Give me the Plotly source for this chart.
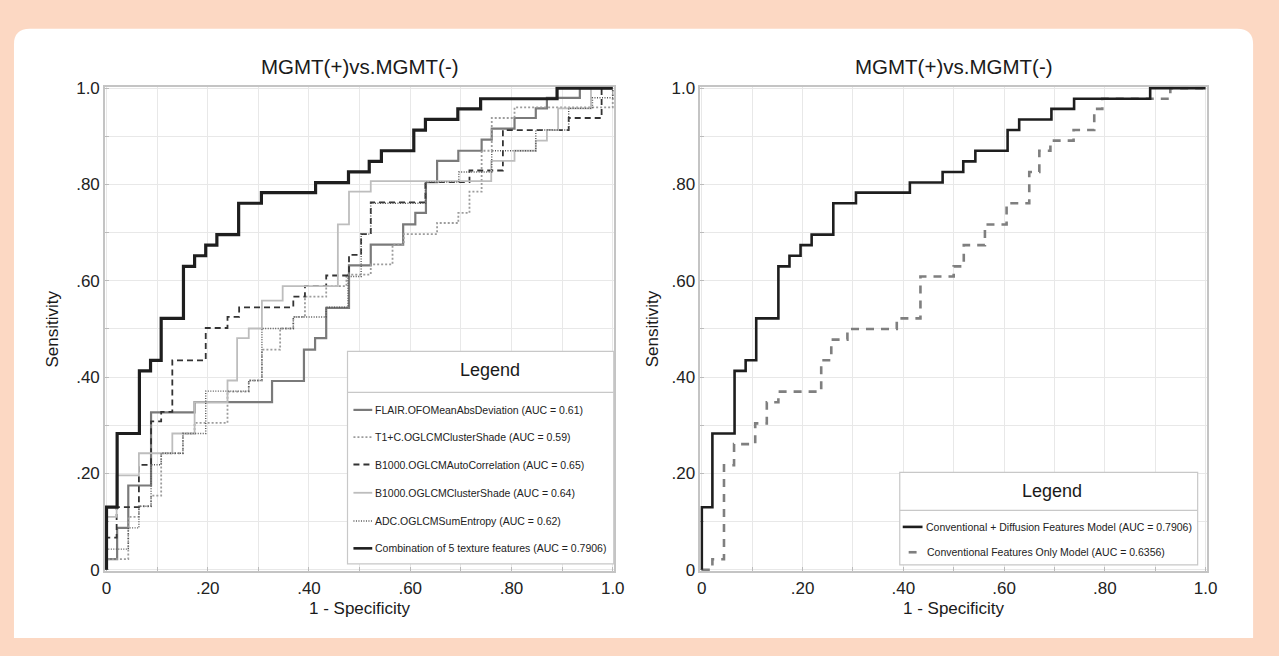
import plotly.graph_objects as go

# ---------------- data ----------------
tick_vals = [0.0, 0.1, 0.2, 0.3, 0.4, 0.5, 0.6, 0.7, 0.8, 0.9, 1.0]
tick_text = ["0", "", ".20", "", ".40", "", ".60", "", ".80", "", "1.0"]

panel_title = "MGMT(+)vs.MGMT(-)"
x_label = "1 - Specificity"
y_label = "Sensitivity"
legend_title = "Legend"

left_names = ["FLAIR.OFOMeanAbsDeviation", "T1+C.OGLCMClusterShade",
              "B1000.OGLCMAutoCorrelation", "B1000.OGLCMClusterShade",
              "ADC.OGLCMSumEntropy", "Combination of 5 texture features"]
left_auc = ["0.61", "0.59", "0.65", "0.64", "0.62", "0.7906"]

right_names = ["Conventional + Diffusion Features Model", "Conventional Features Only Model"]
right_auc = ["0.7906", "0.6356"]

# ROC staircases (1-specificity, sensitivity); joined horizontally then vertically
flair_fpr = [0, 0, 0.021, 0.043, 0.088, 0.174, 0.327, 0.390, 0.412, 0.434, 0.479, 0.522, 0.586,
             0.610, 0.631, 0.653, 0.695, 0.741, 0.761, 0.806, 0.848, 0.870, 0.935, 1.0]
flair_tpr = [0, 0.022, 0.087, 0.175, 0.327, 0.348, 0.392, 0.457, 0.481, 0.544, 0.632, 0.675, 0.717,
             0.741, 0.805, 0.849, 0.870, 0.893, 0.916, 0.938, 0.958, 0.980, 1.0, 1.0]

t1c_fpr = [0, 0, 0.043, 0.064, 0.088, 0.108, 0.151, 0.174, 0.239, 0.281, 0.307, 0.343, 0.369,
           0.392, 0.434, 0.474, 0.522, 0.565, 0.587, 0.653, 0.695, 0.717, 0.741, 0.761, 0.806, 1.0]
t1c_tpr = [0, 0.022, 0.110, 0.132, 0.154, 0.242, 0.283, 0.305, 0.370, 0.393, 0.457, 0.501, 0.525,
           0.567, 0.589, 0.613, 0.634, 0.675, 0.697, 0.720, 0.741, 0.785, 0.870, 0.938, 0.960, 1.0]

b1000ac_fpr = [0, 0, 0.020, 0.064, 0.088, 0.108, 0.130, 0.196, 0.239, 0.262, 0.369, 0.392, 0.434,
               0.479, 0.503, 0.522, 0.630, 0.717, 0.783, 0.913, 0.978, 1.0]
b1000ac_tpr = [0, 0.067, 0.130, 0.218, 0.308, 0.328, 0.435, 0.502, 0.525, 0.545, 0.567, 0.589, 0.611,
               0.654, 0.697, 0.763, 0.805, 0.829, 0.913, 0.938, 1.0, 1.0]

b1000cs_fpr = [0, 0, 0.020, 0.064, 0.130, 0.174, 0.239, 0.258, 0.281, 0.307, 0.348, 0.457, 0.479,
               0.522, 0.760, 0.806, 0.848, 0.870, 0.892, 0.957, 1.0]
b1000cs_tpr = [0, 0.110, 0.196, 0.242, 0.283, 0.348, 0.393, 0.481, 0.501, 0.559, 0.589, 0.717, 0.785,
               0.807, 0.849, 0.870, 0.891, 0.913, 0.958, 1.0, 1.0]

adc_fpr = [0, 0, 0.043, 0.064, 0.088, 0.108, 0.151, 0.196, 0.281, 0.307, 0.369, 0.434, 0.477,
           0.503, 0.522, 0.630, 0.696, 0.761, 0.848, 0.913, 0.960, 1.0]
adc_tpr = [0, 0.043, 0.087, 0.132, 0.218, 0.242, 0.283, 0.371, 0.393, 0.501, 0.525, 0.545, 0.609,
           0.697, 0.761, 0.805, 0.826, 0.870, 0.913, 0.958, 0.980, 1.0]

combo_fpr = [0, 0, 0.021, 0.065, 0.087, 0.108, 0.152, 0.174, 0.196, 0.218, 0.261, 0.306, 0.413,
             0.478, 0.519, 0.543, 0.607, 0.630, 0.694, 0.739, 0.890, 1.0]
combo_tpr = [0, 0.130, 0.283, 0.413, 0.435, 0.522, 0.630, 0.652, 0.674, 0.696, 0.761, 0.783, 0.804,
             0.826, 0.848, 0.870, 0.913, 0.935, 0.957, 0.978, 1.0, 1.0]

conv_fpr = [0, 0.021, 0.044, 0.064, 0.106, 0.129, 0.152, 0.237, 0.257, 0.289, 0.387, 0.434, 0.500,
            0.520, 0.562, 0.605, 0.650, 0.670, 0.692, 0.738, 0.779, 0.795, 0.930, 1.0]
conv_tpr = [0, 0.022, 0.217, 0.261, 0.304, 0.348, 0.370, 0.435, 0.478, 0.500, 0.522, 0.609, 0.630,
            0.674, 0.717, 0.761, 0.826, 0.870, 0.891, 0.913, 0.957, 0.978, 1.0, 1.0]

left_series = [(flair_fpr, flair_tpr), (t1c_fpr, t1c_tpr), (b1000ac_fpr, b1000ac_tpr),
               (b1000cs_fpr, b1000cs_tpr), (adc_fpr, adc_tpr), (combo_fpr, combo_tpr)]
right_series = [(combo_fpr, combo_tpr), (conv_fpr, conv_tpr)]

# ---------------- styles ----------------
left_styles = [
    dict(color="#7a7a7a", width=2.2, dash="solid"),
    dict(color="#9c9c9c", width=1.8, dash="2px,2px"),
    dict(color="#333333", width=1.8, dash="6px,4px"),
    dict(color="#bdbdbd", width=1.8, dash="solid"),
    dict(color="#555555", width=1.4, dash="1px,1.5px"),
    dict(color="#1e1e1e", width=3.2, dash="solid"),
]
right_styles = [
    dict(color="#1e1e1e", width=2.6, dash="solid"),
    dict(color="#7f7f7f", width=2.6, dash="8px,7px"),
]

FONT = "Liberation Sans, Arial, Helvetica, sans-serif"
PEACH = "#fcd8c3"

# page is 1279x656; the figure sits inside the default 8px body margin
OFF = 8
W, H = 1279 - 2 * OFF, 656 - 2 * OFF


def px(xp):
    return (xp - OFF) / W


def py(yp):
    return 1 - (yp - OFF) / H


# plot areas in page pixels
L_AX = (104.5, 616.0)
R_AX = (706.0, 1215.0)
TOP, BOT = 82.0, 576.0
PAD = 0.003

fig = go.Figure()

for i, ((xs, ys), st) in enumerate(zip(left_series, left_styles)):
    fig.add_trace(go.Scatter(x=xs, y=ys, mode="lines", line_shape="hv",
                             line=dict(color=st["color"], width=st["width"], dash=st["dash"]),
                             name=left_names[i], xaxis="x", yaxis="y", showlegend=False,
                             hoverinfo="skip"))

for i in [1, 0]:
    xs, ys = right_series[i]
    st = right_styles[i]
    fig.add_trace(go.Scatter(x=xs, y=ys, mode="lines", line_shape="hv",
                             line=dict(color=st["color"], width=st["width"], dash=st["dash"]),
                             name=right_names[i], xaxis="x2", yaxis="y2", showlegend=False,
                             hoverinfo="skip"))


def xdom(a, b):
    w = b - a
    return [px(a - PAD * w), px(b + PAD * w)]


ydom = [py(BOT + PAD * (BOT - TOP)), py(TOP - PAD * (BOT - TOP))]

axis_common = dict(range=[-PAD, 1 + PAD], tickvals=tick_vals, ticktext=tick_text,
                   showgrid=True, gridcolor="#e8e8e8", gridwidth=1, zeroline=False,
                   showline=True, linecolor="#c4c4c4", linewidth=1.5, mirror=True,
                   ticks="inside", ticklen=4, tickcolor="#bbbbbb",
                   tickfont=dict(family=FONT, size=17, color="#222222"),
                   layer="below traces", fixedrange=True)

fig.update_layout(
    width=W, height=H, autosize=False,
    margin=dict(l=0, r=0, t=0, b=0),
    paper_bgcolor=PEACH, plot_bgcolor="white",
    xaxis=dict(domain=xdom(*L_AX), anchor="y", ticklabelstandoff=1, **axis_common),
    yaxis=dict(domain=ydom, anchor="x", **axis_common),
    xaxis2=dict(domain=xdom(*R_AX), anchor="y2", ticklabelstandoff=1, **axis_common),
    yaxis2=dict(domain=ydom, anchor="x2", **axis_common),
    showlegend=False,
)

shapes = []
annotations = []

# white rounded panel
x0, x1, yt, yb, r = 11, 1263, 21, 646, 16
rx, ry = r / W, r / H
path = (f"M {px(x0)},{py(yb)} L {px(x0)},{py(yt) - ry} Q {px(x0)},{py(yt)} {px(x0) + rx},{py(yt)} "
        f"L {px(x1) - rx},{py(yt)} Q {px(x1)},{py(yt)} {px(x1)},{py(yt) - ry} L {px(x1)},{py(yb)} Z")
shapes.append(dict(type="path", path=path, xref="paper", yref="paper", fillcolor="white",
                   line=dict(width=0), layer="below"))

# titles and axis labels
for cx, sx in [((L_AX[0] + L_AX[1]) / 2, 50), ((R_AX[0] + R_AX[1]) / 2, 657)]:
    annotations.append(dict(text=panel_title, x=px(cx), y=py(60), xref="paper", yref="paper",
                            showarrow=False, xanchor="center", yanchor="middle",
                            font=dict(family=FONT, size=20.5, color="#1a1a1a")))
    annotations.append(dict(text=x_label, x=px(cx), y=py(616), xref="paper", yref="paper",
                            showarrow=False, xanchor="center", yanchor="middle",
                            font=dict(family=FONT, size=17, color="#1a1a1a")))
    annotations.append(dict(text=y_label, x=px(sx), y=py((TOP + BOT) / 2), xref="paper", yref="paper",
                            showarrow=False, xanchor="center", yanchor="middle", textangle=-90,
                            font=dict(family=FONT, size=17, color="#1a1a1a")))


def legend_box(bx0, bx1, by0, by1, div_y, title_x, title_y):
    shapes.append(dict(type="rect", xref="paper", yref="paper", x0=px(bx0), x1=px(bx1),
                       y0=py(by1), y1=py(by0), fillcolor="white",
                       line=dict(color="#c8c8c8", width=1.2), layer="above"))
    shapes.append(dict(type="line", xref="paper", yref="paper", x0=px(bx0), x1=px(bx1),
                       y0=py(div_y), y1=py(div_y), line=dict(color="#c8c8c8", width=1.2),
                       layer="above"))
    annotations.append(dict(text=legend_title, x=px(title_x), y=py(title_y), xref="paper",
                            yref="paper", showarrow=False, xanchor="center", yanchor="middle",
                            font=dict(family=FONT, size=18, color="#1a1a1a")))


def legend_entry(lx0, lx1, tx, ey, style, label):
    shapes.append(dict(type="line", xref="paper", yref="paper", x0=px(lx0), x1=px(lx1),
                       y0=py(ey), y1=py(ey),
                       line=dict(color=style["color"], width=min(style["width"], 2.6),
                                 dash=style["dash"]), layer="above"))
    annotations.append(dict(text=label, x=px(tx), y=py(ey), xref="paper", yref="paper",
                            showarrow=False, xanchor="left", yanchor="middle",
                            font=dict(family=FONT, size=10.5, color="#222222")))


# left legend
legend_box(348, 617, 352, 570, 394, 492, 371)
left_entry_y = [412, 440, 468, 497, 526, 554]
for i in range(len(left_names)):
    legend_entry(354, 373, 374, left_entry_y[i], left_styles[i],
                 f"{left_names[i]} (AUC = {left_auc[i]})")

# right legend
legend_box(906, 1207, 476, 571, 515, 1060, 495)
legend_entry(909, 929, 930, 532, right_styles[0], f"{right_names[0]} (AUC = {right_auc[0]})")
legend_entry(915, 923, 931.5, 558, dict(color=right_styles[1]["color"], width=2.6, dash="solid"),
             f"{right_names[1]} (AUC = {right_auc[1]})")

fig.update_layout(shapes=shapes, annotations=annotations)

fig.write_html("out.html", config={"displayModeBar": False},
               post_script="document.body.style.background='%s';" % PEACH)
